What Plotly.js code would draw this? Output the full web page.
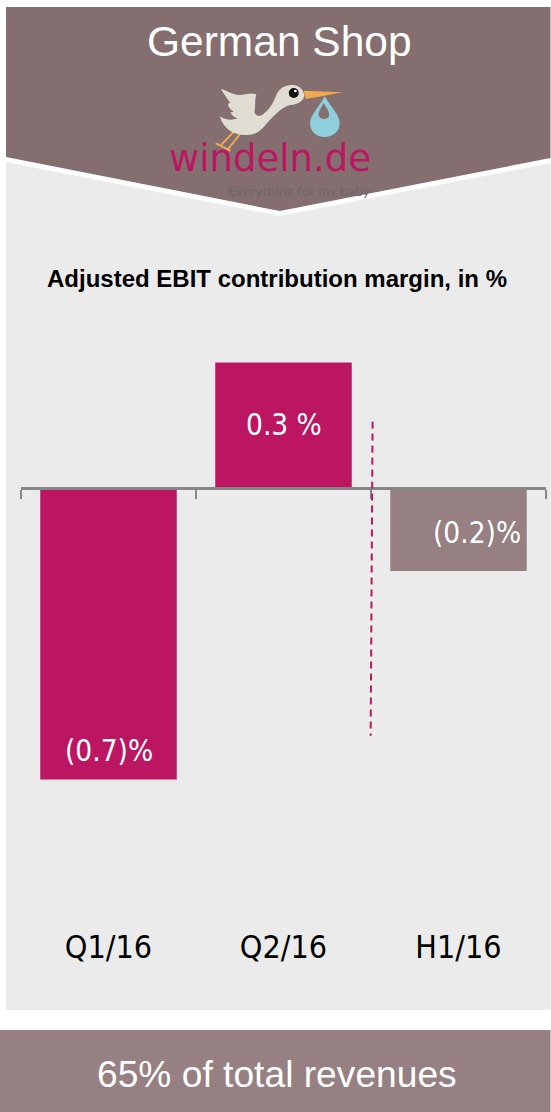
<!DOCTYPE html>
<html>
<head>
<meta charset="utf-8">
<script src="https://cdn.plot.ly/plotly-3.0.1.min.js"></script>
<style>html,body{margin:0;padding:0;background:#fff}#chart{width:551px;height:1112px}</style>
</head>
<body>
<div id="chart"></div>
<script>
// Reporting periods and their margins, in percent
const periods = ['Q1/16', 'Q2/16', 'H1/16'];
const margins = [-0.7, 0.3, -0.2];
const marginLabels = ['(0.7)%', '0.3 %', '(0.2)%'];
const barColors = ['#bc1662', '#bc1662', '#968081'];

const W = 551, H = 1112;
const plot = {l: 21, r: 4.5, t: 340, b: 187};
const plotW = W - plot.l - plot.r, plotH = H - plot.t - plot.b;
const yTop = 0.3537, yBottom = -1.049;

// Page pixels to paper fractions, for the furniture around the plot
const fx = px => (px - plot.l) / plotW;
const fy = py => 1 - (py - plot.t) / plotH;
const path = pts => 'M' + pts.map(p => fx(p[0]) + ' ' + fy(p[1])).join(' L') + ' Z';
const paperPath = (pts, color) => ({type: 'path', xref: 'paper', yref: 'paper', layer: 'below',
  path: path(pts), fillcolor: color, line: {width: 0}});
const pageText = (text, px, py, font) => ({text, xref: 'paper', yref: 'paper', x: fx(px), y: fy(py),
  xanchor: 'center', yanchor: 'middle', showarrow: false, font});

const sans = 'Liberation Sans, Arial, sans-serif';
const humanist = 'DejaVu Sans Condensed, DejaVu Sans, sans-serif';
const valueFont = {family: humanist, size: 29.5, color: '#fff'};

// Stork mark of the shop logo
const stork = `<svg xmlns="http://www.w3.org/2000/svg" viewBox="0 0 660 390" width="660" height="390">
<g fill="none" stroke="#f0a94e" stroke-width="6" stroke-linecap="round">
<path d="M248 168 L205 222"/><path d="M222 170 L186 208"/><path d="M170 206 L210 226"/>
</g>
<path fill="#e0ddd3" d="M183 41 C200 45 215 58 238 60 C255 60 275 52 290 58 C284 72 288 95 284 112 C288 125 300 125 310 118 C335 100 345 72 352 55 C362 36 382 28 402 30 C420 32 432 45 434 62 C430 80 412 88 392 90 C370 95 350 115 330 135 C312 155 298 180 262 180 C225 182 192 165 180 124 C195 134 215 138 234 130 C225 128 215 122 212 112 L222 110 C212 104 206 96 204 86 L212 84 C204 72 192 58 183 41 Z"/>
<circle cx="402" cy="54" r="15" fill="#111"/><circle cx="407" cy="48" r="4" fill="#fff"/>
<path fill="#f0a94e" d="M432 47 L548 52 L490 63 L438 72 Z"/>
<path fill="#8ecfdb" d="M495 64 C512 95 542 120 540 148 C538 172 518 186 495 186 C470 186 451 170 451 145 C452 118 480 95 495 64 Z"/>
<path fill="#846e70" d="M492 84 C502 100 510 112 508 122 C505 134 482 136 477 122 C475 112 484 98 492 84 Z"/>
</svg>`;

const data = [
  {type: 'bar', x: periods, y: margins, xaxis: 'x', yaxis: 'y', width: 0.78,
   marker: {color: barColors, line: {width: 0}}, hoverinfo: 'x+y'},
  // Carries the second category axis, the one that runs along zero
  {type: 'scatter', x: periods, y: [null, null, null], xaxis: 'x2', yaxis: 'y', mode: 'lines',
   hoverinfo: 'skip', showlegend: false}
];

const layout = {
  width: W, height: H, showlegend: false,
  margin: plot,
  paper_bgcolor: '#ffffff', plot_bgcolor: 'rgba(0,0,0,0)',
  xaxis: {type: 'category', categoryorder: 'array', categoryarray: periods, range: [-0.5, 2.5],
    showgrid: false, zeroline: false, showline: false, ticks: '', automargin: false,
    tickfont: {family: humanist, size: 32, color: '#000'}},
  xaxis2: {type: 'category', categoryorder: 'array', categoryarray: periods, range: [-0.5, 2.5],
    overlaying: 'x', anchor: 'free', position: -yBottom / (yTop - yBottom), side: 'bottom',
    showgrid: false, zeroline: false, showline: true, linecolor: '#868686', linewidth: 3,
    ticks: 'outside', tickson: 'boundaries', ticklen: 9, tickwidth: 2, tickcolor: '#868686',
    showticklabels: false},
  yaxis: {range: [yBottom, yTop], visible: false, showgrid: false, zeroline: false},
  shapes: [
    paperPath([[6, 162], [280, 216], [551, 163], [551, 1010], [6, 1010]], '#ebebeb'),
    paperPath([[6, 7], [551, 7], [551, 158], [280, 211], [6, 157]], '#846e70'),
    paperPath([[0, 1030], [551, 1030], [551, 1112], [0, 1112]], '#968081'),
    // Divider between the quarters and the half year
    {type: 'line', xref: 'x', yref: 'y', x0: 1.509, y0: 0.158, x1: 1.498, y1: -0.595,
     line: {color: '#bc1662', width: 2, dash: '7px,5px'}}
  ],
  images: [{source: 'data:image/svg+xml;utf8,' + encodeURIComponent(stork),
    xref: 'paper', yref: 'paper', x: fx(160), y: fy(75), sizex: 220 / plotW, sizey: 130 / plotH,
    sizing: 'stretch', xanchor: 'left', yanchor: 'top', layer: 'above'}],
  annotations: [
    pageText('German Shop', 280, 41, {family: sans, size: 42.5, color: '#fff'}),
    pageText('windeln.de', 270, 158, {family: 'DejaVu Sans, sans-serif', size: 37, color: '#bc1662'}),
    pageText('Everything for my baby', 300, 190, {family: 'Lato, sans-serif', size: 14, color: '#6f6668'}),
    pageText('<b>Adjusted EBIT contribution margin, in %</b>', 277, 279, {family: sans, size: 24, color: '#000'}),
    pageText('65% of total revenues', 277, 1074, {family: sans, size: 37.2, color: '#fff'}),
    // Value labels, placed inside their bars
    {text: marginLabels[0], x: periods[0], y: -0.63, xref: 'x', yref: 'y', showarrow: false,
     xanchor: 'center', yanchor: 'middle', yshift: -1, font: valueFont},
    {text: marginLabels[1], x: periods[1], y: 0.15, xref: 'x', yref: 'y', showarrow: false,
     xanchor: 'center', yanchor: 'middle', font: valueFont},
    {text: marginLabels[2], x: periods[2], y: -0.11, xshift: 18, xref: 'x', yref: 'y', showarrow: false,
     xanchor: 'center', yanchor: 'middle', font: valueFont}
  ]
};

Plotly.newPlot('chart', data, layout, {displayModeBar: false, staticPlot: true});
</script>
</body>
</html>
